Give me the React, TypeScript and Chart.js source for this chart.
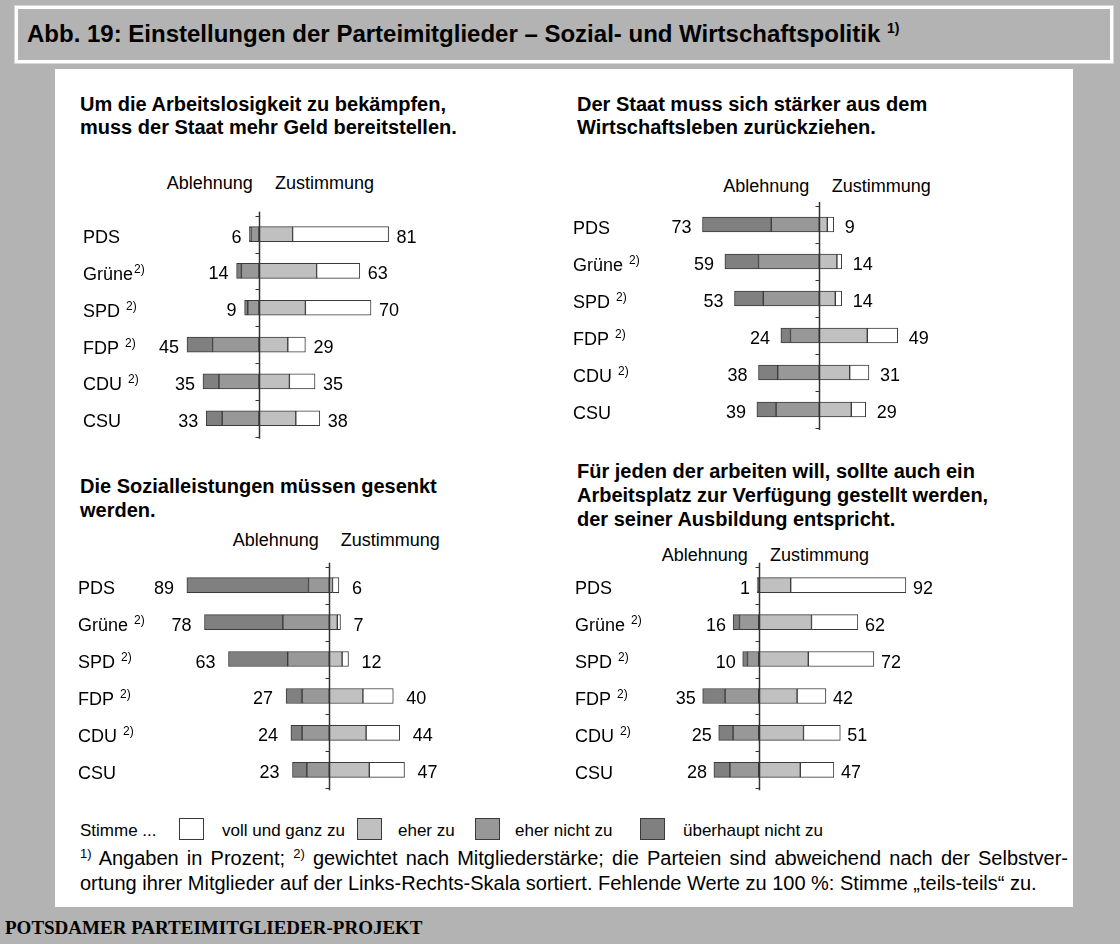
import React, { useEffect, useRef } from "react";
import { Chart, registerables } from "chart.js";
Chart.register(...registerables);

// ---------------- data ----------------
const PARTIES = ["PDS", "Grüne", "SPD", "FDP", "CDU", "CSU"];
const NAMES_A = ["PDS", "Grüne", "SPD ", "FDP ", "CDU ", "CSU"];
const NAMES_B = ["PDS", "Grüne ", "SPD ", "FDP ", "CDU ", "CSU"];
const NOTES = ["", "2)", "2)", "2)", "2)", ""];

// Panel 1: Arbeitslosigkeit
const P1_DARK = [1, 3, 2, 16, 10, 10];
const P1_MID = [5, 11, 7, 29, 25, 23];
const P1_LIGHT = [21, 36, 29, 18, 19, 23];
const P1_WHITE = [60, 27, 41, 11, 16, 15];
const P1_ABL = [6, 14, 9, 45, 35, 33];
const P1_ZUS = [81, 63, 70, 29, 35, 38];

// Panel 2: Staat zurückziehen
const P2_DARK = [43, 21, 18, 6, 12, 12];
const P2_MID = [30, 38, 35, 18, 26, 27];
const P2_LIGHT = [5, 11, 10, 30, 19, 20];
const P2_WHITE = [4, 3, 4, 19, 12, 9];
const P2_ABL = [73, 59, 53, 24, 38, 39];
const P2_ZUS = [9, 14, 14, 49, 31, 29];

// Panel 3: Sozialleistungen
const P3_DARK = [76, 49, 37, 10, 7, 9];
const P3_MID = [13, 29, 26, 17, 17, 14];
const P3_LIGHT = [2, 5, 8, 21, 23, 25];
const P3_WHITE = [4, 2, 4, 19, 21, 22];
const P3_ABL = [89, 78, 63, 27, 24, 23];
const P3_ZUS = [6, 7, 12, 40, 44, 47];

// Panel 4: Arbeitsplatz
const P4_DARK = [1, 4, 3, 14, 9, 10];
const P4_MID = [0, 12, 7, 21, 16, 18];
const P4_LIGHT = [20, 33, 31, 24, 28, 26];
const P4_WHITE = [72, 29, 41, 18, 23, 21];
const P4_ABL = [1, 16, 10, 35, 25, 28];
const P4_ZUS = [92, 62, 72, 42, 51, 47];

const Q1 = ["Um die Arbeitslosigkeit zu bekämpfen,", "muss der Staat mehr Geld bereitstellen."];
const Q2 = ["Der Staat muss sich stärker aus dem", "Wirtschaftsleben zurückziehen."];
const Q3 = ["Die Sozialleistungen müssen gesenkt", "werden."];
const Q4 = [
  "Für jeden der arbeiten will, sollte auch ein",
  "Arbeitsplatz zur Verfügung gestellt werden,",
  "der seiner Ausbildung entspricht.",
];

const LEGEND = ["voll und ganz zu", "eher zu", "eher nicht zu", "überhaupt nicht zu"];

// ---------------- style ----------------
const SANS = '"Liberation Sans", Arial, Helvetica, sans-serif';
const SERIF = '"Liberation Serif", "Times New Roman", serif';
const C_DARK = "#808080";
const C_MID = "#989898";
const C_LIGHT = "#c0c0c0";
const C_WHITE = "#ffffff";
const C_BORDER = "#3a3a3a";
const BG = "#b3b3b3";
const PX = 1.6; // pixels per percent

const divergingPlugin = {
  id: "diverging",
  afterDatasetsDraw(chart: any, _args: any, opts: any) {
    const { ctx, chartArea, scales } = chart;
    const x = scales.x;
    const y = scales.y;
    const zx = Math.round(x.getPixelForValue(0)) + 0.5;
    ctx.save();
    ctx.strokeStyle = "#333";
    ctx.lineWidth = 1.5;
    ctx.beginPath();
    ctx.moveTo(zx, chartArea.top - 4);
    ctx.lineTo(zx, chartArea.bottom + 2);
    ctx.stroke();
    const n = chart.data.labels.length;
    ctx.lineWidth = 1;
    for (let i = 0; i <= n; i++) {
      const ty = Math.round(y.getPixelForValue(i - 0.5)) + 0.5;
      ctx.beginPath();
      ctx.moveTo(zx - 4, ty);
      ctx.lineTo(zx, ty);
      ctx.stroke();
    }
    ctx.fillStyle = "#000";
    const leftMeta = chart.getDatasetMeta(1);
    const rightMeta = chart.getDatasetMeta(3);
    for (let i = 0; i < n; i++) {
      const cy = y.getPixelForValue(i);
      // category label
      ctx.font = `18px ${SANS}`;
      ctx.textAlign = "left";
      ctx.textBaseline = "alphabetic";
      const name = opts.names[i];
      ctx.fillText(name, opts.labelX, cy + 9);
      if (opts.notes[i]) {
        const w = ctx.measureText(name).width;
        ctx.font = `12px ${SANS}`;
        ctx.fillText(opts.notes[i], opts.labelX + w + 1, cy + 2);
      }
      // totals
      ctx.font = `18px ${SANS}`;
      const lx = leftMeta.data[i].x;
      const rx = rightMeta.data[i].x;
      ctx.textAlign = "right";
      ctx.fillText(String(opts.abl[i]), lx - opts.gap, cy + 8.5);
      ctx.textAlign = "left";
      ctx.fillText(String(opts.zus[i]), rx + opts.gap, cy + 8.5);
    }
    ctx.restore();
  },
};

type PanelProps = {
  left: number;
  top: number;
  width: number;
  height: number;
  zeroX: number;
  padTop: number;
  padBottom: number;
  labelX: number;
  gap: number;
  names: string[];
  dark: number[];
  mid: number[];
  light: number[];
  white: number[];
  abl: number[];
  zus: number[];
};

function Panel(p: PanelProps) {
  const ref = useRef<HTMLCanvasElement | null>(null);
  useEffect(() => {
    if (!ref.current) return;
    const bar = { barThickness: 15, borderWidth: 1, borderColor: C_BORDER, borderSkipped: false as const, stack: "s" };
    const chart = new Chart(ref.current, {
      type: "bar",
      data: {
        labels: PARTIES,
        datasets: [
          { ...bar, label: "eher nicht zu", data: p.mid.map((v) => -v), backgroundColor: C_MID },
          { ...bar, label: "überhaupt nicht zu", data: p.dark.map((v) => -v), backgroundColor: C_DARK },
          { ...bar, label: "eher zu", data: p.light, backgroundColor: C_LIGHT },
          { ...bar, label: "voll und ganz zu", data: p.white, backgroundColor: C_WHITE },
        ],
      },
      options: {
        indexAxis: "y",
        animation: false,
        responsive: false,
        maintainAspectRatio: false,
        layout: { padding: { top: p.padTop, bottom: p.padBottom, left: 0, right: 0 } },
        scales: {
          x: {
            type: "linear",
            stacked: true,
            display: false,
            min: -(p.zeroX - p.left) / PX,
            max: (p.left + p.width - p.zeroX) / PX,
          },
          y: { stacked: true, display: false, offset: true },
        },
        plugins: {
          legend: { display: false },
          tooltip: { enabled: false },
          diverging: {
            names: p.names,
            notes: NOTES,
            abl: p.abl,
            zus: p.zus,
            gap: p.gap,
            labelX: p.labelX - p.left,
          },
        } as any,
      },
      plugins: [divergingPlugin],
    } as any);
    return () => chart.destroy();
  }, []);
  return (
    <canvas
      ref={ref}
      width={p.width}
      height={p.height}
      style={{ position: "absolute", left: p.left, top: p.top, width: p.width, height: p.height }}
    />
  );
}

// text positioned by baseline
function T(props: { x: number; base: number; size: number; bold?: boolean; serif?: boolean; w?: number; children: any }) {
  const { x, base, size, bold, serif, w, children } = props;
  const off = serif ? 0.8375 : 0.8465;
  const st: any = {
    position: "absolute",
    left: x,
    top: base - off * size,
    font: `${bold ? "bold " : ""}${size}px ${serif ? SERIF : SANS}`,
    lineHeight: `${size}px`,
    whiteSpace: "nowrap",
    color: "#000",
  };
  if (w) {
    st.width = w;
    st.textAlign = "justify";
    st.textAlignLast = "justify";
    st.whiteSpace = "normal";
    st.height = size;
  }
  return <div style={st}>{children}</div>;
}

function Sup({ children, size = 12, rise = 8 }: { children: any; size?: number; rise?: number }) {
  return <span style={{ fontSize: size, position: "relative", top: -rise }}>{children}</span>;
}

function Question({ lines, x, base, lh }: { lines: string[]; x: number; base: number; lh: number }) {
  return (
    <>
      {lines.map((l, i) => (
        <T key={i} x={x} base={base + i * lh} size={20} bold>
          {l}
        </T>
      ))}
    </>
  );
}

function Header({ ax, zx, base }: { ax: number; zx: number; base: number }) {
  return (
    <>
      <T x={ax} base={base} size={18}>Ablehnung</T>
      <T x={zx} base={base} size={18}>Zustimmung</T>
    </>
  );
}

function LegendBox({ x, color }: { x: number; color: string }) {
  return (
    <div
      style={{
        position: "absolute",
        left: x,
        top: 818,
        width: 23,
        height: 20,
        background: color,
        border: `1px solid ${C_BORDER}`,
      }}
    />
  );
}

export default function App() {
  useEffect(() => {
    document.body.style.margin = "0";
  }, []);
  return (
    <div style={{ position: "absolute", left: 0, top: 0, width: 1120, height: 944, background: BG, overflow: "hidden" }}>
      {/* title box */}
      <div
        style={{
          position: "absolute",
          left: 15,
          top: 6,
          width: 1092,
          height: 51,
          border: "3px solid #ffffff",
          outline: "1px solid #d6d6d6",
        }}
      />
      <T x={27} base={42.7} size={24} bold>
        Abb. 19: Einstellungen der Parteimitglieder – Sozial- und Wirtschaftspolitik <Sup size={14} rise={9}>1)</Sup>
      </T>

      {/* white panel */}
      <div style={{ position: "absolute", left: 55, top: 69, width: 1018, height: 838, background: "#ffffff" }} />

      <Question lines={Q1} x={80} base={110.7} lh={23.5} />
      <Question lines={Q2} x={577} base={110.7} lh={23.5} />
      <Question lines={Q3} x={80} base={493} lh={24} />
      <Question lines={Q4} x={577} base={478.3} lh={24} />

      <Header ax={166.7} zx={275} base={189} />
      <Header ax={723.3} zx={831.7} base={192.7} />
      <Header ax={232.7} zx={340.7} base={546.7} />
      <Header ax={661.7} zx={770} base={561.7} />

      <Panel left={60} top={205} width={440} height={240} zeroX={259} padTop={10.7} padBottom={8.3} labelX={83} gap={8}
        names={NAMES_A} dark={P1_DARK} mid={P1_MID} light={P1_LIGHT} white={P1_WHITE} abl={P1_ABL} zus={P1_ZUS} />
      <Panel left={560} top={195} width={440} height={245} zeroX={819.3} padTop={11} padBottom={12} labelX={573} gap={11}
        names={NAMES_B} dark={P2_DARK} mid={P2_MID} light={P2_LIGHT} white={P2_WHITE} abl={P2_ABL} zus={P2_ZUS} />
      <Panel left={60} top={555} width={440} height={245} zeroX={329.3} padTop={11.7} padBottom={11.7} labelX={78} gap={13}
        names={NAMES_B} dark={P3_DARK} mid={P3_MID} light={P3_LIGHT} white={P3_WHITE} abl={P3_ABL} zus={P3_ZUS} />
      <Panel left={560} top={555} width={440} height={245} zeroX={758.7} padTop={11.7} padBottom={11.7} labelX={575} gap={7}
        names={NAMES_B} dark={P4_DARK} mid={P4_MID} light={P4_LIGHT} white={P4_WHITE} abl={P4_ABL} zus={P4_ZUS} />

      {/* legend */}
      <T x={80} base={836} size={17}>Stimme ...</T>
      <LegendBox x={179} color={C_WHITE} />
      <T x={222} base={836} size={17}>{LEGEND[0]}</T>
      <LegendBox x={357} color={C_LIGHT} />
      <T x={398} base={836} size={17}>{LEGEND[1]}</T>
      <LegendBox x={475} color={C_MID} />
      <T x={515} base={836} size={17}>{LEGEND[2]}</T>
      <LegendBox x={640} color={C_DARK} />
      <T x={683} base={836} size={17}>{LEGEND[3]}</T>

      {/* footnotes */}
      <T x={80} base={865} size={20} w={988}>
        <Sup size={13} rise={7}>1)</Sup> Angaben in Prozent; <Sup size={13} rise={7}>2)</Sup> gewichtet nach Mitgliederstärke; die Parteien sind abweichend nach der Selbstver-
      </T>
      <T x={80} base={890} size={20}>
        ortung ihrer Mitglieder auf der Links-Rechts-Skala sortiert. Fehlende Werte zu 100 %: Stimme „teils-teils“ zu.
      </T>

      <T x={5} base={934} size={19} bold serif>
        POTSDAMER PARTEIMITGLIEDER-PROJEKT
      </T>
    </div>
  );
}
